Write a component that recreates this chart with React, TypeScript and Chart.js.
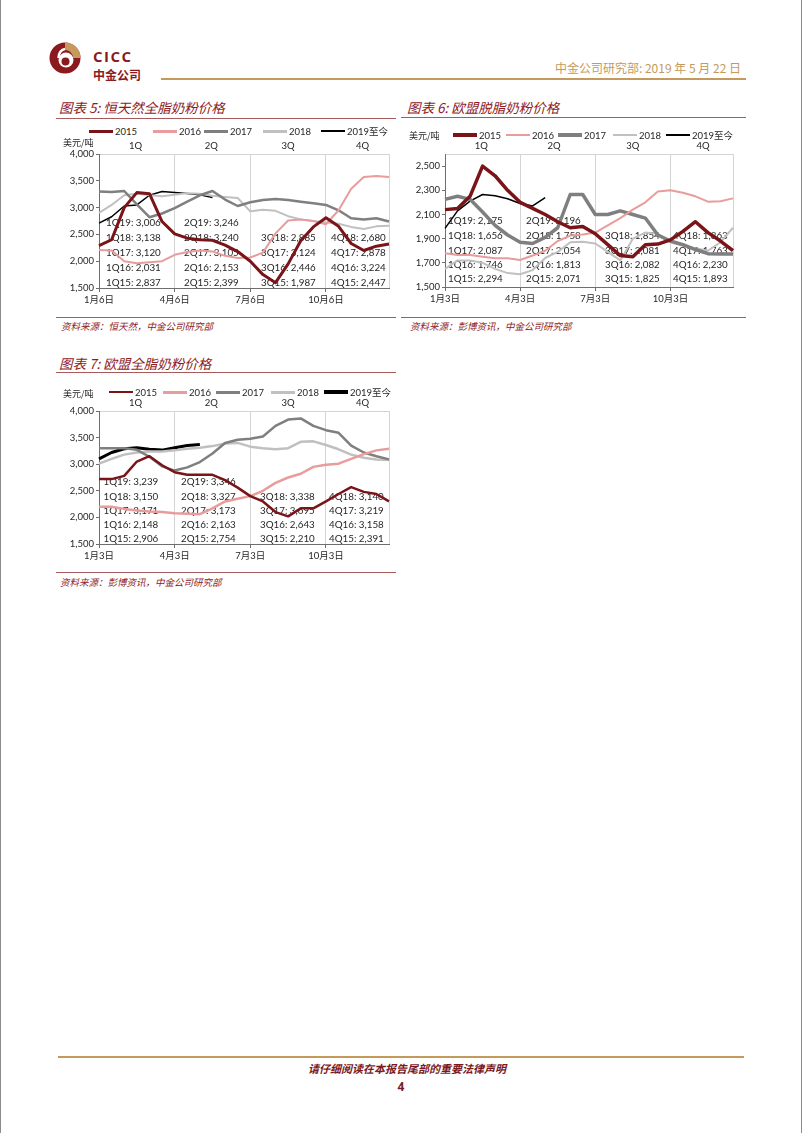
import { useEffect, useRef } from 'react';
import { Chart, registerables } from 'chart.js';

Chart.register(...registerables);

// ---------- data ----------
const SERIES_NAMES = ['2015', '2016', '2017', '2018', '2019至今'];
const SERIES_COLORS = ['#7A1418', '#E89C9C', '#7F7F7F', '#C0C0C0', '#000000'];
const QUARTER_LABELS = ['1Q', '2Q', '3Q', '4Q'];

const GDT_X_LABELS = [
  '1月6日', '', '', '', '', '', '4月6日', '', '', '', '', '',
  '7月6日', '', '', '', '', '', '10月6日', '', '', '', '', '',
];
const EU_X_LABELS = [
  '1月3日', '', '', '', '', '', '4月3日', '', '', '', '', '',
  '7月3日', '', '', '', '', '', '10月3日', '', '', '', '', '',
];

const GDT_Y_TICKS = [1500, 2000, 2500, 3000, 3500, 4000];
const SMP_Y_TICKS = [1500, 1700, 1900, 2100, 2300, 2500];
const WMP_Y_TICKS = [1500, 2000, 2500, 3000, 3500, 4000];

// 图表5 恒天然全脂奶粉
const GDT_2015 = [2290, 2400, 3000, 3280, 3260, 2740, 2510, 2430, 2400, 2390, 2300, 2180, 2000, 1750, 1600, 1950, 2380, 2640, 2810, 2650, 2330, 2200, 2280, 2320];
const GDT_2016 = [2210, 2200, 2000, 1960, 1980, 2000, 2120, 2170, 2200, 2180, 2100, 2060, 2070, 2160, 2520, 2760, 2780, 2750, 2690, 2950, 3350, 3570, 3590, 3570];
const GDT_2017 = [3300, 3290, 3310, 3060, 2820, 2890, 2990, 3110, 3230, 3310, 3150, 3030, 3100, 3140, 3160, 3140, 3110, 3080, 3050, 2950, 2800, 2780, 2800, 2740];
const GDT_2018 = [2900, 3050, 3230, 3260, 3230, 3210, 3240, 3270, 3260, 3220, 3200, 3180, 2930, 2960, 2940, 2840, 2780, 2750, 2720, 2700, 2640, 2600, 2650, 2660];
const GDT_2019 = [2710, 2830, 3030, 3050, 3230, 3300, 3280, 3265, 3240, 3190];

// 图表6 欧盟脱脂奶粉
const SMP_2015 = [2140, 2150, 2250, 2500, 2420, 2300, 2200, 2150, 2100, 2040, 1990, 2000, 1940, 1850, 1760, 1750, 1850, 1855, 1890, 1960, 2040, 1950, 1880, 1800];
const SMP_2016 = [1780, 1765, 1765, 1750, 1737, 1737, 1723, 1760, 1800, 1880, 1925, 1935, 1950, 2010, 2070, 2140, 2200, 2290, 2300, 2280, 2250, 2206, 2210, 2233];
const SMP_2017 = [2225, 2250, 2225, 2120, 2010, 1930, 1870, 1860, 1910, 1990, 2265, 2265, 2100, 2100, 2130, 2100, 2070, 1930, 1880, 1850, 1810, 1776, 1773, 1773];
const SMP_2018 = [1650, 1720, 1720, 1700, 1650, 1615, 1605, 1640, 1740, 1790, 1870, 1875, 1860, 1790, 1720, 1900, 1950, 1940, 1870, 1840, 1820, 1800, 1870, 1990];
const SMP_2019 = [1985, 2130, 2210, 2265, 2255, 2230, 2190, 2170, 2240];

// 图表7 欧盟全脂奶粉
const WMP_2015 = [2720, 2720, 2780, 3050, 3150, 2980, 2850, 2800, 2800, 2800, 2700, 2560, 2400, 2300, 2100, 2020, 2170, 2170, 2300, 2440, 2570, 2480, 2440, 2300];
const WMP_2016 = [2200, 2200, 2160, 2130, 2110, 2100, 2080, 2070, 2060, 2170, 2300, 2350, 2400, 2500, 2650, 2750, 2820, 2950, 2990, 3010, 3100, 3190, 3260, 3290];
const WMP_2017 = [3300, 3300, 3300, 3270, 3140, 2960, 2880, 2940, 3040, 3200, 3400, 3460, 3480, 3520, 3720, 3840, 3860, 3720, 3640, 3590, 3350, 3220, 3150, 3090];
const WMP_2018 = [3010, 3100, 3180, 3220, 3240, 3240, 3260, 3290, 3310, 3340, 3390, 3400, 3330, 3300, 3280, 3300, 3420, 3430, 3360, 3280, 3180, 3120, 3090, 3080];
const WMP_2019 = [3100, 3220, 3290, 3310, 3280, 3265, 3310, 3350, 3370];

// quarterly averages shown inside the plots
const GDT_NOTES = [
  ['1Q19: 3,006', '2Q19: 3,246', '', ''],
  ['1Q18: 3,138', '2Q18: 3,240', '3Q18: 2,885', '4Q18: 2,680'],
  ['1Q17: 3,120', '2Q17: 3,105', '3Q17: 3,124', '4Q17: 2,878'],
  ['1Q16: 2,031', '2Q16: 2,153', '3Q16: 2,446', '4Q16: 3,224'],
  ['1Q15: 2,837', '2Q15: 2,399', '3Q15: 1,987', '4Q15: 2,447'],
];
const SMP_NOTES = [
  ['1Q19: 2,175', '2Q19: 2,196', '', ''],
  ['1Q18: 1,656', '2Q18: 1,758', '3Q18: 1,854', '4Q18: 1,863'],
  ['1Q17: 2,087', '2Q17: 2,054', '3Q17: 2,081', '4Q17: 1,763'],
  ['1Q16: 1,746', '2Q16: 1,813', '3Q16: 2,082', '4Q16: 2,230'],
  ['1Q15: 2,294', '2Q15: 2,071', '3Q15: 1,825', '4Q15: 1,893'],
];
const WMP_NOTES = [
  ['1Q19: 3,239', '2Q19: 3,346', '', ''],
  ['1Q18: 3,150', '2Q18: 3,327', '3Q18: 3,338', '4Q18: 3,140'],
  ['1Q17: 3,171', '2Q17: 3,173', '3Q17: 3,695', '4Q17: 3,219'],
  ['1Q16: 2,148', '2Q16: 2,163', '3Q16: 2,643', '4Q16: 3,158'],
  ['1Q15: 2,906', '2Q15: 2,754', '3Q15: 2,210', '4Q15: 2,391'],
];

// ---------- styles ----------
const FONT = 'Lato, "Noto Sans CJK SC", sans-serif';
const CJK = '"Noto Sans CJK SC", sans-serif';
const TEXT = '#262626';
const AXIS = '#6E6E6E';
const GRID = '#D4D4D4';
const RED = '#8E1B1E';
const TAN = '#C49A5C';

type Geo = { left: number; top: number; width: number; height: number; aL: number; aR: number; aT: number; aB: number };

type ChartProps = {
  series: number[][];
  widths: number[];
  xLabels: string[];
  yMin: number;
  yMax: number;
  yTicks: number[];
  notes: string[][];
  noteCols: number[];
  noteRows: number[];
  quarterPos: number[];
  geo: Geo;
};

function PriceChart(p: ChartProps) {
  const ref = useRef<HTMLCanvasElement>(null);
  useEffect(() => {
    const { geo } = p;
    const font = { family: FONT, size: 9.5 };
    const notesPlugin = {
      id: 'quarterNotes',
      beforeDatasetsDraw(chart: any) {
        const { ctx, chartArea } = chart;
        ctx.save();
        ctx.font = `9.8px ${FONT}`;
        ctx.fillStyle = TEXT;
        ctx.textBaseline = 'middle';
        ctx.textAlign = 'left';
        p.notes.forEach((row, r) =>
          row.forEach((t, c) => {
            if (t) ctx.fillText(t, chartArea.left + p.noteCols[c], chartArea.bottom - p.noteRows[r]);
          })
        );
        ctx.restore();
      },
    };
    const chart = new Chart(ref.current as HTMLCanvasElement, {
      type: 'line',
      data: {
        labels: p.xLabels,
        datasets: p.series.map((d, i) => ({
          label: SERIES_NAMES[i],
          data: d,
          borderColor: SERIES_COLORS[i],
          backgroundColor: SERIES_COLORS[i],
          borderWidth: p.widths[i],
          pointRadius: 0,
          tension: 0,
          fill: false,
          borderJoinStyle: 'round' as const,
        })),
      },
      options: {
        responsive: false,
        animation: false,
        layout: { padding: { left: 0, right: geo.width - geo.aR, top: 0, bottom: 0 } },
        plugins: { legend: { display: false }, title: { display: false }, tooltip: { enabled: false } },
        scales: {
          x: {
            type: 'category',
            position: 'bottom',
            afterFit: (s: any) => { s.height = geo.height - geo.aB; },
            grid: {
              color: (c: any) => (p.xLabels[c.index] !== '' || c.index === p.xLabels.length - 1 ? GRID : 'rgba(0,0,0,0)'),
              tickColor: (c: any) => (p.xLabels[c.index] !== '' ? AXIS : 'rgba(0,0,0,0)'),
              tickLength: 4,
              lineWidth: 1,
            },
            border: { color: AXIS, width: 1 },
            ticks: { autoSkip: false, maxRotation: 0, minRotation: 0, padding: 2, color: TEXT, font },
          },
          x2: {
            type: 'linear',
            position: 'top',
            min: 0,
            max: p.xLabels.length - 1,
            afterFit: (s: any) => { s.height = geo.aT; },
            afterBuildTicks: (s: any) => { s.ticks = p.quarterPos.map((v) => ({ value: v })); },
            grid: { display: false, drawTicks: false },
            border: { display: true, color: GRID, width: 1 },
            ticks: { autoSkip: false, maxRotation: 0, padding: 2, color: TEXT, font, callback: (_v: any, i: number) => QUARTER_LABELS[i] },
          },
          y: {
            type: 'linear',
            min: p.yMin,
            max: p.yMax,
            afterFit: (s: any) => { s.width = geo.aL; },
            afterBuildTicks: (s: any) => { s.ticks = p.yTicks.map((v) => ({ value: v })); },
            grid: { drawOnChartArea: false, drawTicks: true, tickLength: 3, tickColor: AXIS },
            border: { color: AXIS, width: 1 },
            ticks: { padding: 2, color: TEXT, font, callback: (v: any) => Number(v).toLocaleString('en-US') },
          },
        },
      },
      plugins: [notesPlugin],
    } as any);
    return () => chart.destroy();
  }, []);
  const { geo } = p;
  return (
    <canvas
      ref={ref}
      width={geo.width}
      height={geo.height}
      style={{ position: 'absolute', left: geo.left, top: geo.top, width: geo.width, height: geo.height }}
    />
  );
}

function Abs({ x, y, h = 16, children, style }: any) {
  return (
    <div style={{ position: 'absolute', left: x, top: y - h / 2, height: h, lineHeight: `${h}px`, whiteSpace: 'nowrap', ...style }}>
      {children}
    </div>
  );
}

function Legend({ xs, y, widths }: { xs: number[]; y: number; widths: number[] }) {
  return (
    <>
      {SERIES_NAMES.map((n, i) => (
        <div
          key={n}
          style={{ position: 'absolute', left: xs[i], top: y - 7, height: 14, display: 'flex', alignItems: 'center', whiteSpace: 'nowrap', font: `9.5px ${FONT}`, color: TEXT }}
        >
          <span style={{ display: 'inline-block', width: 24, height: widths[i], background: SERIES_COLORS[i], marginRight: 2 }} />
          {n}
        </div>
      ))}
    </>
  );
}

function HLine({ x1, x2, y, color, w = 1 }: any) {
  return <div style={{ position: 'absolute', left: x1, top: y - w / 2, width: x2 - x1, height: w, background: color }} />;
}

const titleStyle = { font: `italic 13.5px ${CJK}`, color: RED };
const sourceStyle = { font: `italic 9.5px ${CJK}`, color: RED };
const unitStyle = { font: `9px ${CJK}`, color: TEXT };

export default function App() {
  return (
    <div style={{ position: 'absolute', left: 0, top: 0, width: 802, height: 1133, background: '#fff', overflow: 'hidden', boxSizing: 'border-box', borderLeft: '1px solid #8C8C8C', borderRight: '1px solid #8C8C8C' }}>
      {/* header */}
      <svg style={{ position: 'absolute', left: 48, top: 41 }} width={34} height={34} viewBox="0 0 34 34">
        <circle cx={16} cy={17} r={15.5} fill="#8B1A1E" />
        <path d="M16 1.5 A15.5 15.5 0 0 1 31.5 17 L24 17 A8 8 0 0 0 16 9 Z" fill="#C8995E" />
        <circle cx={17} cy={19} r={7.5} fill="#fff" />
        <circle cx={16.5} cy={20.5} r={4} fill="#8B1A1E" />
        <path d="M9.5 17 A7 9 0 0 1 16 8" stroke="#fff" strokeWidth={2.5} fill="none" />
      </svg>
      <Abs x={92} y={52} h={12} style={{ font: `bold 15px "Open Sans", sans-serif`, color: '#8B1A1E', letterSpacing: 1.5 }}>CICC</Abs>
      <Abs x={92} y={71.5} h={12} style={{ font: `bold 12px ${CJK}`, color: '#8B1A1E' }}>中金公司</Abs>
      <div style={{ position: 'absolute', right: 60, top: 59, height: 16, lineHeight: '16px', whiteSpace: 'nowrap', font: `12px ${CJK}`, color: TAN }}>
        中金公司研究部: 2019 年 5 月 22 日
      </div>
      <HLine x1={160} x2={745} y={78.5} color={TAN} w={2} />

      {/* 图表5 */}
      <Abs x={58} y={106} h={18} style={titleStyle}>图表 5: 恒天然全脂奶粉价格</Abs>
      <HLine x1={55} x2={395} y={118} color="#A65A5A" w={1} />
      <PriceChart
        series={[GDT_2015, GDT_2016, GDT_2017, GDT_2018, GDT_2019]}
        widths={[3, 2, 2.5, 2, 1.5]}
        xLabels={GDT_X_LABELS}
        yMin={1500}
        yMax={4000}
        yTicks={GDT_Y_TICKS}
        notes={GDT_NOTES}
        noteCols={[7, 85, 162, 232]}
        noteRows={[65.3, 50.3, 35.3, 20.3, 5.3]}
        quarterPos={[2.9, 8.9, 15, 20.9]}
        geo={{ left: 55, top: 140, width: 345, height: 176, aL: 43, aR: 333, aT: 14, aB: 148 }}
      />
      <Legend xs={[88, 152, 203, 262, 320]} y={131} widths={[3, 3, 3, 3, 2]} />
      <Abs x={62} y={141.5} h={12} style={unitStyle}>美元/吨</Abs>
      <HLine x1={55} x2={395} y={317} color="#A65A5A" w={1} />
      <Abs x={60} y={326} h={14} style={sourceStyle}>资料来源：恒天然，中金公司研究部</Abs>

      {/* 图表6 */}
      <Abs x={406} y={106} h={18} style={titleStyle}>图表 6: 欧盟脱脂奶粉价格</Abs>
      <HLine x1={400} x2={745} y={117.5} color="#A65A5A" w={1} />
      <PriceChart
        series={[SMP_2015, SMP_2016, SMP_2017, SMP_2018, SMP_2019]}
        widths={[3.5, 2, 3.5, 2, 1.5]}
        xLabels={EU_X_LABELS}
        yMin={1500}
        yMax={2600}
        yTicks={SMP_Y_TICKS}
        notes={SMP_NOTES}
        noteCols={[3, 81, 160, 228]}
        noteRows={[66, 51, 36.3, 22, 7.7]}
        quarterPos={[2.9, 8.7, 15, 20.6]}
        geo={{ left: 400, top: 140, width: 345, height: 176, aL: 44, aR: 332, aT: 14, aB: 147 }}
      />
      <Legend xs={[452, 505, 557, 612, 665]} y={135} widths={[4, 2.5, 4, 2.5, 2]} />
      <Abs x={408} y={135} h={12} style={unitStyle}>美元/吨</Abs>
      <HLine x1={400} x2={745} y={317} color="#A65A5A" w={1} />
      <Abs x={409} y={326} h={14} style={sourceStyle}>资料来源：彭博资讯，中金公司研究部</Abs>

      {/* 图表7 */}
      <Abs x={58} y={361.5} h={18} style={titleStyle}>图表 7: 欧盟全脂奶粉价格</Abs>
      <HLine x1={55} x2={395} y={372} color="#A65A5A" w={1} />
      <PriceChart
        series={[WMP_2015, WMP_2016, WMP_2017, WMP_2018, WMP_2019]}
        widths={[2.5, 2.5, 2.5, 2.5, 3]}
        xLabels={EU_X_LABELS}
        yMin={1500}
        yMax={4000}
        yTicks={WMP_Y_TICKS}
        notes={WMP_NOTES}
        noteCols={[4.5, 82, 161, 230]}
        noteRows={[61.7, 47.3, 33.3, 19, 4.7]}
        quarterPos={[2.9, 8.9, 15, 20.9]}
        geo={{ left: 55, top: 397, width: 345, height: 174, aL: 43, aR: 333, aT: 14, aB: 147 }}
      />
      <Legend xs={[108, 162, 215, 270, 323]} y={392} widths={[2.5, 3, 3, 3, 3.5]} />
      <Abs x={62} y={393} h={12} style={unitStyle}>美元/吨</Abs>
      <HLine x1={55} x2={395} y={572.5} color="#A65A5A" w={1} />
      <Abs x={59} y={581.5} h={14} style={sourceStyle}>资料来源：彭博资讯，中金公司研究部</Abs>

      {/* footer */}
      <HLine x1={57} x2={743} y={1057} color={TAN} w={2} />
      <div style={{ position: 'absolute', left: 0, width: 812, top: 1060, height: 16, lineHeight: '16px', textAlign: 'center', font: `italic bold 11px ${CJK}`, color: '#7B1A1E' }}>
        请仔细阅读在本报告尾部的重要法律声明
      </div>
      <div style={{ position: 'absolute', left: 0, width: 800, top: 1078, height: 16, lineHeight: '16px', textAlign: 'center', font: `bold 12px "Open Sans", sans-serif`, color: '#7B1A1E' }}>
        4
      </div>
    </div>
  );
}
